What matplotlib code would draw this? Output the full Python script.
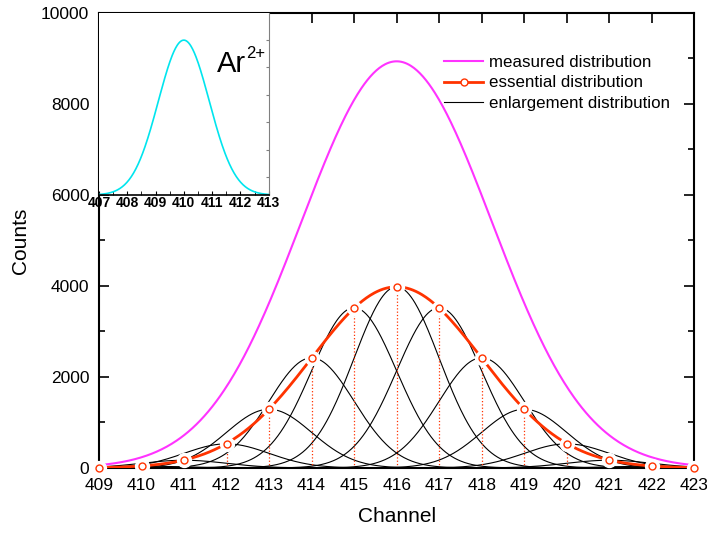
import numpy as np
import matplotlib.pyplot as plt
from matplotlib.ticker import MultipleLocator

plt.rcParams['font.family'] = ['Liberation Sans', 'DejaVu Sans']

# essential distribution, read at each channel
channels = [409, 410, 411, 412, 413, 414, 415, 416, 417, 418, 419, 420, 421, 422, 423]
essential = [8, 40, 170, 530, 1290, 2420, 3520, 3980, 3520, 2420, 1290, 530, 170, 40, 8]

# gaussian shape parameters
essential_peak = 3980
essential_center = 416
essential_sigma = 2.0
enlarge_sigma = 1.0

# inset (Ar2+) peak
inset_center = 410
inset_peak = 0.85
inset_sigma = 0.9

x = np.linspace(409, 423, 600)

fig = plt.figure(figsize=(7.07, 5.33), dpi=100)
ax = fig.add_axes([0.140, 0.122, 0.842, 0.854])

# enlargement curves, one per essential point
measured = np.zeros_like(x)
for c, v in zip(channels, essential):
    g = v * np.exp(-(x - c) ** 2 / (2 * enlarge_sigma ** 2))
    measured += g
    ax.plot(x, g, color='black', lw=0.8, zorder=2)

ax.plot(x, measured, color='#ff33ff', lw=1.5, zorder=3, label='measured distribution')

# drop lines
for c, v in zip(channels, essential):
    ax.plot([c, c], [0, v], color='#ff3300', lw=0.9, ls=':', zorder=2)

ess_curve = essential_peak * np.exp(-(x - essential_center) ** 2 / (2 * essential_sigma ** 2))
ax.plot(x, ess_curve, color='#ff3300', lw=2, zorder=4)
ax.plot(channels, essential, ls='none', marker='o', ms=10, mfc='white', mec='white', zorder=5, clip_on=False)
ax.plot(channels, essential, ls='none', marker='o', ms=5, mfc='white', mec='#ff3300', mew=1.0, zorder=6, clip_on=False)

# legend proxies
ax.plot([], [], color='#ff3300', lw=2, marker='o', ms=5, mfc='white', mec='#ff3300', label='essential distribution')
ax.plot([], [], color='black', lw=0.8, label='enlargement distribution')

ax.set_xlim(409, 423)
ax.set_ylim(0, 10000)
ax.set_xticks(channels)
ax.yaxis.set_major_locator(MultipleLocator(2000))
ax.yaxis.set_minor_locator(MultipleLocator(1000))
ax.tick_params(which='both', direction='in', top=True, right=True, labelsize=12.5, width=1.2)
ax.tick_params(axis='x', which='both', bottom=False)
ax.tick_params(which='major', length=7)
ax.tick_params(which='minor', length=4)
ax.tick_params(axis='x', pad=7)
ax.tick_params(axis='y', pad=7)
for s in ax.spines.values():
    s.set_linewidth(1.5)
ax.set_xlabel('Channel', fontsize=15, labelpad=10)
ax.set_ylabel('Counts', fontsize=15, labelpad=8)

leg = ax.legend(loc='upper right', bbox_to_anchor=(0.985, 0.94), frameon=False, fontsize=12.2,
                handlelength=2.3, handletextpad=0.35, labelspacing=0.3)

# inset
ins = fig.add_axes([0.140, 0.634, 0.240, 0.342])
xi = np.linspace(407, 413, 300)
ins.plot(xi, inset_peak * np.exp(-(xi - inset_center) ** 2 / (2 * inset_sigma ** 2)), color='#00e5ee', lw=1.2)
ins.set_xlim(407, 413)
ins.set_ylim(0, 1)
ins.set_xticks(range(407, 414))
ins.xaxis.set_minor_locator(MultipleLocator(0.5))
ins.set_yticks(np.arange(0.1, 1.0, 0.15))
ins.tick_params(axis='x', which='both', direction='in', length=3, labelsize=10, pad=1)
ins.tick_params(axis='y', direction='in', left=False, right=True, labelleft=False, length=2.5, color='gray')
for lab in ins.get_xticklabels():
    lab.set_fontweight('bold')
ins.spines['right'].set_color('gray')
ins.spines['top'].set_visible(False)
ins.spines['left'].set_visible(False)
ins.spines['bottom'].set_linewidth(1.2)
ins.text(0.695, 0.676, 'Ar', transform=ins.transAxes, fontsize=21)
ins.text(0.865, 0.75, '2+', transform=ins.transAxes, fontsize=12)

fig.savefig('out.png', dpi=100)
